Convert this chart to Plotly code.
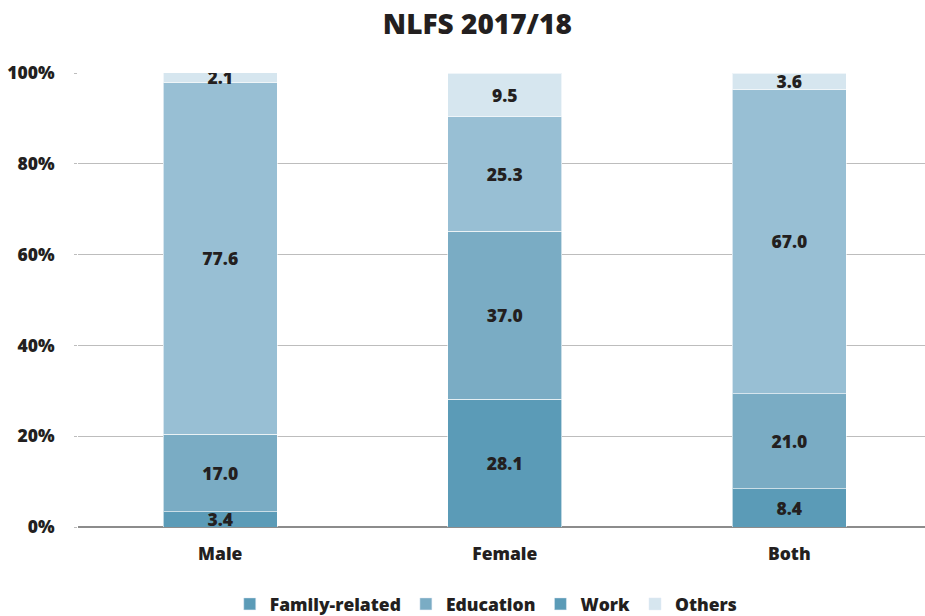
import plotly.graph_objects as go

categories = ["Male", "Female", "Both"]
family_related = [3.4, 28.1, 8.4]
education = [17.0, 37.0, 21.0]
work = [77.6, 25.3, 67.0]
others = [2.1, 9.5, 3.6]
series_names = ["Family-related", "Education", "Work", "Others"]
y_ticks = [0, 20, 40, 60, 80, 100]
y_tick_labels = ["0%", "20%", "40%", "60%", "80%", "100%"]

bar_colors = ["#5b9bb7", "#7aacc4", "#98bfd4", "#d6e6ef"]
legend_colors = ["#5b9bb7", "#7aacc4", "#5b9bb7", "#d6e6ef"]

font_family = "'Open Sans', sans-serif"
dark = "#231f20"
fig = go.Figure()
for name, vals, col in zip(series_names, [family_related, education, work, others], bar_colors):
    fig.add_trace(go.Bar(
        x=categories, y=vals, name=name, showlegend=False,
        marker=dict(color=col, line=dict(color="rgba(255,255,255,0.6)", width=1)),
        text=[f"{v:.1f}" for v in vals], textposition="inside",
        insidetextanchor="middle",
        textfont=dict(family=font_family, size=17.5, color=dark, weight=800),
        width=0.40, hoverinfo="skip",
    ))
for name, col in zip(series_names, legend_colors):
    fig.add_trace(go.Bar(
        x=categories, y=[None, None, None], name=name, showlegend=True,
        marker=dict(color=col),
    ))

fig.update_layout(
    width=925, height=616, barmode="stack",
    margin=dict(l=78, r=0, t=73, b=89, autoexpand=False),
    plot_bgcolor="white", paper_bgcolor="white",
    title=dict(text="NLFS 2017/18", x=0.516, xanchor="center",
               y=1 - 24 / 616, yanchor="middle", yref="container",
               font=dict(family=font_family, size=28, color=dark, weight=800)),
    uniformtext=dict(minsize=17.5, mode="show"),
    legend=dict(orientation="h", x=0.482, xanchor="center",
                y=12 / 616, yanchor="middle", yref="container",
                traceorder="normal",
                font=dict(family=font_family, size=17.5, color=dark, weight=800),
                itemwidth=30, tracegroupgap=0),
)
fig.update_yaxes(range=[0, 100], tickvals=y_ticks, ticktext=y_tick_labels,
                 automargin=False,
                 showgrid=True, gridcolor="#bdbdbd", gridwidth=1,
                 ticks="outside", ticklen=3, tickcolor="#bdbdbd",
                 zeroline=True, zerolinecolor="#8c8c8c", zerolinewidth=2,
                 ticklabelstandoff=16,
                 tickfont=dict(family=font_family, size=17.5, color=dark, weight=800))
fig.update_xaxes(showline=False, ticks="", automargin=False,
                 range=[-0.5, 2.477],
                 ticklabelstandoff=14,
                 tickfont=dict(family=font_family, size=17.5, color=dark, weight=800))

fig.write_html("out.html", post_script="document.body.style.margin='0';",
               config={"displayModeBar": False})
